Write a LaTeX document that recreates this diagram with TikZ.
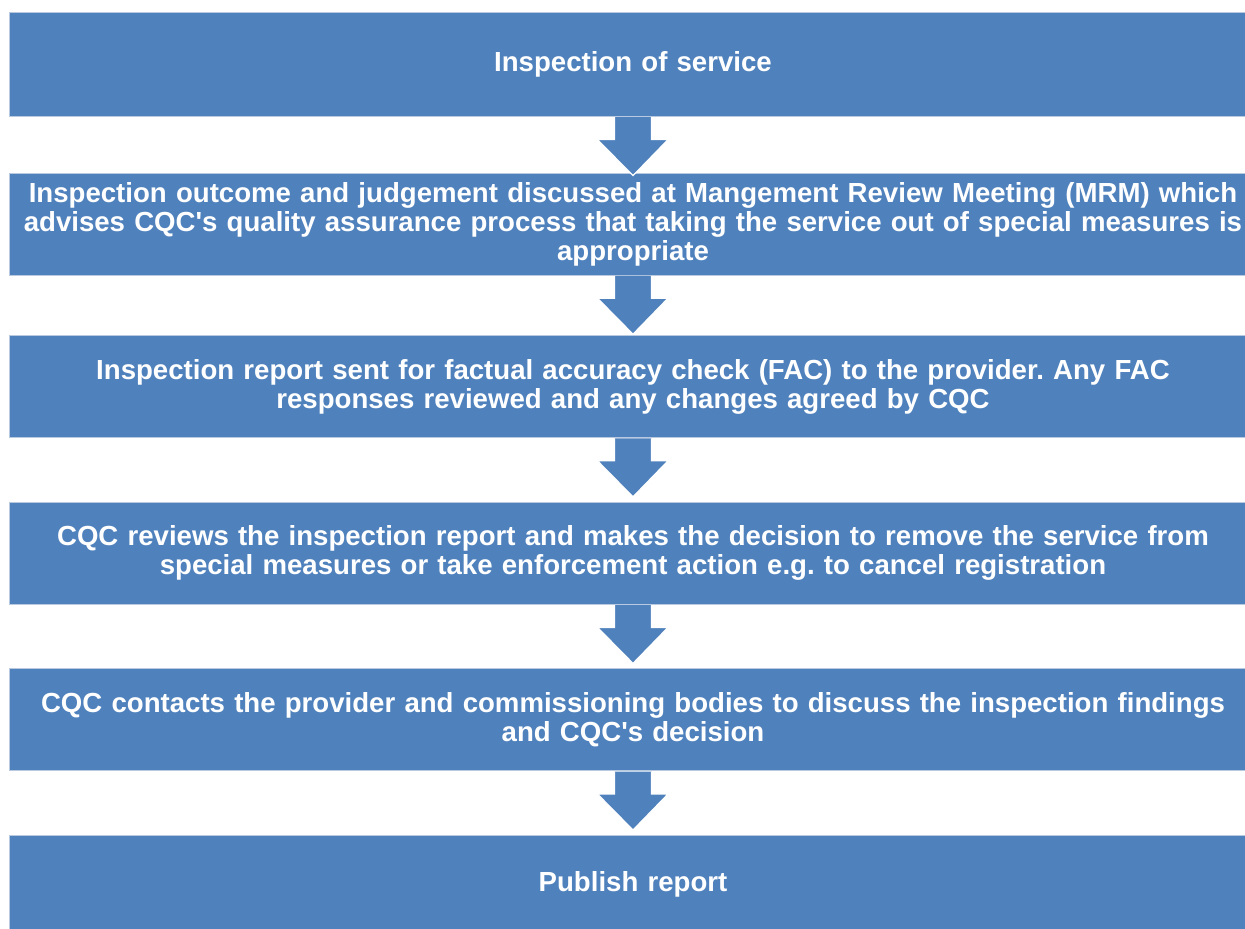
\documentclass[tikz,border=0pt]{standalone}
\usepackage{fontspec}
\setmainfont{Liberation Sans}
\usetikzlibrary{positioning, calc}
\definecolor{stepblue}{HTML}{4F81BD}
\definecolor{stepedge}{HTML}{B9CAE0}
\frenchspacing

\begin{document}
\begin{tikzpicture}[
    x=1pt, y=-1pt,
    box/.style={
      fill=stepblue, draw=stepedge, line width=0.6pt,
      text width=1236pt, inner sep=6pt, align=center, text=white,
      font=\fontsize{27.6}{29}\selectfont\bfseries
    },
    flow/.style={fill=stepblue, draw=white, line width=1.2pt, line join=miter},
  ]
  \useasboundingbox (0,0) rectangle (1245,929);
  \clip (0,0) rectangle (1245,929);

  % --- Steps ---
  \node[box, minimum height=104pt, anchor=north] (insp) at (633,12) {Inspection of service};
  \node[box, minimum height=102pt, below=56pt of insp] (mrm)
    {Inspection outcome and judgement discussed at Mangement Review Meeting (MRM) which\\
     advises CQC\textquotesingle s quality assurance process that taking the service out of special measures is\\
     appropriate};
  \node[box, minimum height=102pt, below=60pt of mrm] (fac)
    {Inspection report sent for factual accuracy check (FAC) to the provider. Any FAC\\
     responses reviewed and any changes agreed by CQC};
  \node[box, minimum height=102pt, below=64pt of fac] (dec)
    {CQC reviews the inspection report and makes the decision to remove the service from\\
     special measures or take enforcement action e.g. to cancel registration};
  \node[box, minimum height=102pt, below=64pt of dec] (cont)
    {CQC contacts the provider and commissioning bodies to discuss the inspection findings\\
     and CQC\textquotesingle s decision};
  \node[box, minimum height=98pt, below=64pt of cont] (pub) {Publish report};

  % --- Block arrows ---
  \foreach \a/\b in {insp/mrm, mrm/fac, fac/dec, dec/cont, cont/pub}
    \filldraw[flow] ($(\a.south)+(-18.5,0.6)$) -- ++(0,22.4) -- ++(-17,0)
      -- ($(\a.south)!59pt!(\b.north)$)
      -- ($(\a.south)+(35,23)$) -- ++(-16.5,0) -- ++(0,-22.4);
\end{tikzpicture}
\end{document}
